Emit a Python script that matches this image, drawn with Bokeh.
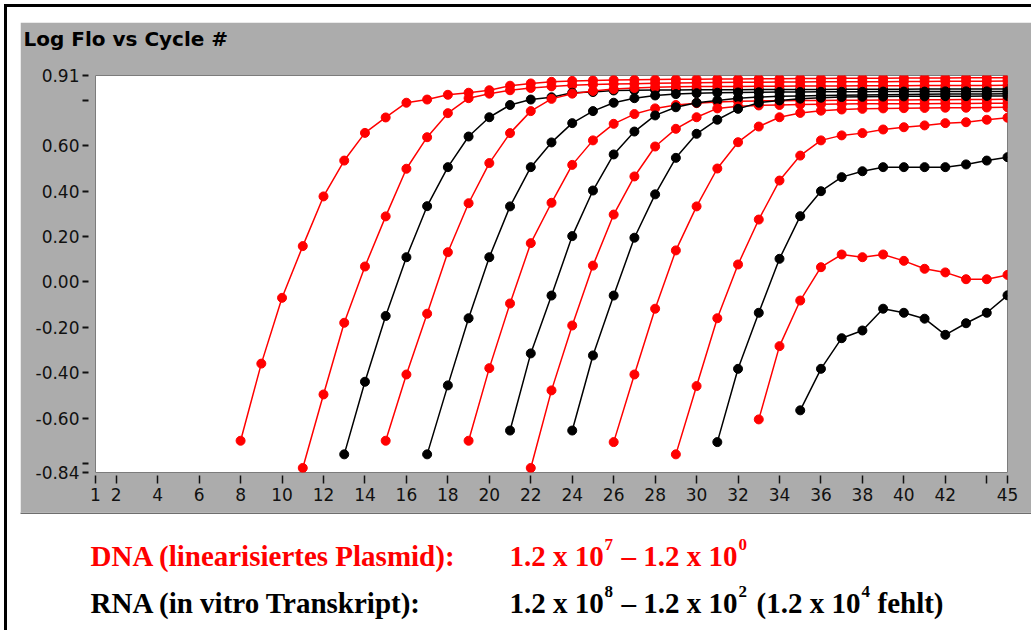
from bokeh.plotting import figure
from bokeh.models import Range1d, FixedTicker, Label
from bokeh.layouts import column
from bokeh.embed import file_html
from bokeh.resources import INLINE

# ---------------- data ----------------
# DNA (linearised plasmid) dilution series, red; first cycle + values up to cycle 45
dna_1e7_start = 8
dna_1e7 = [-0.70, -0.36, -0.07, 0.158, 0.377, 0.535, 0.657, 0.725, 0.79, 0.804, 0.825, 0.834,
           0.845, 0.865, 0.875, 0.882, 0.886, 0.888, 0.89, 0.891, 0.892, 0.893, 0.894, 0.895,
           0.895, 0.896, 0.896, 0.897, 0.897, 0.898, 0.898, 0.898, 0.899, 0.899, 0.899, 0.90,
           0.90, 0.90]
dna_1e6_start = 11
dna_1e6 = [-0.82, -0.496, -0.18, 0.068, 0.289, 0.499, 0.638, 0.744, 0.81, 0.83, 0.845, 0.855,
           0.862, 0.867, 0.87, 0.872, 0.874, 0.876, 0.877, 0.878, 0.879, 0.88, 0.88, 0.881,
           0.881, 0.882, 0.882, 0.883, 0.883, 0.884, 0.884, 0.885, 0.885, 0.885, 0.886]
dna_1e5_start = 15
dna_1e5 = [-0.70, -0.408, -0.14, 0.131, 0.347, 0.524, 0.656, 0.753, 0.807, 0.83, 0.842, 0.85,
           0.855, 0.858, 0.86, 0.861, 0.862, 0.862, 0.863, 0.863, 0.864, 0.864, 0.864, 0.865,
           0.865, 0.865, 0.866, 0.866, 0.866, 0.866, 0.867]
dna_1e4_start = 19
dna_1e4 = [-0.70, -0.38, -0.095, 0.171, 0.349, 0.516, 0.624, 0.697, 0.74, 0.765, 0.78, 0.788,
           0.793, 0.796, 0.798, 0.799, 0.80, 0.80, 0.801, 0.801, 0.802, 0.802, 0.803, 0.803,
           0.804, 0.804, 0.805]
dna_1e3_start = 22
dna_1e3 = [-0.82, -0.478, -0.192, 0.072, 0.297, 0.465, 0.597, 0.675, 0.726, 0.765, 0.774,
           0.778, 0.78, 0.782, 0.783, 0.784, 0.785, 0.785, 0.786, 0.786, 0.787, 0.787, 0.788,
           0.788]
dna_1e2_start = 26
dna_1e2 = [-0.706, -0.408, -0.118, 0.139, 0.333, 0.50, 0.616, 0.685, 0.726, 0.745, 0.755,
           0.76, 0.763, 0.765, 0.766, 0.767, 0.768, 0.768, 0.769, 0.77]
dna_1e1_start = 29
dna_1e1 = [-0.76, -0.459, -0.16, 0.077, 0.275, 0.447, 0.557, 0.624, 0.646, 0.656, 0.672,
           0.682, 0.69, 0.70, 0.704, 0.715, 0.724]
dna_1e0_start = 33
dna_1e0 = [-0.606, -0.283, -0.082, 0.065, 0.121, 0.109, 0.121, 0.093, 0.058, 0.042, 0.012,
           0.012, 0.031]

# RNA (in vitro transcript) dilution series, black
rna_1e8_start = 13
rna_1e8 = [-0.76, -0.44, -0.15, 0.109, 0.334, 0.506, 0.641, 0.726, 0.78, 0.804, 0.814, 0.834,
           0.837, 0.844, 0.845, 0.846, 0.846, 0.847, 0.847, 0.847, 0.848, 0.848, 0.848, 0.848,
           0.849, 0.849, 0.849, 0.849, 0.85, 0.85, 0.85, 0.85, 0.85]
rna_1e7_start = 17
rna_1e7 = [-0.76, -0.456, -0.16, 0.109, 0.333, 0.506, 0.615, 0.70, 0.753, 0.79, 0.81, 0.822,
           0.828, 0.832, 0.834, 0.835, 0.836, 0.837, 0.837, 0.838, 0.838, 0.838, 0.839, 0.839,
           0.839, 0.84, 0.84, 0.84, 0.84]
rna_1e6_start = 21
rna_1e6 = [-0.655, -0.315, -0.06, 0.202, 0.403, 0.562, 0.663, 0.734, 0.77, 0.79, 0.80, 0.81,
           0.815, 0.818, 0.82, 0.822, 0.823, 0.824, 0.825, 0.826, 0.827, 0.828, 0.828, 0.829,
           0.83]
rna_1e5_start = 24
rna_1e5 = [-0.655, -0.324, -0.06, 0.195, 0.386, 0.547, 0.653, 0.715, 0.763, 0.79, 0.80,
           0.808, 0.812, 0.815, 0.816, 0.817, 0.818, 0.818, 0.819, 0.819, 0.82, 0.82]
rna_1e3_start = 31
rna_1e3 = [-0.706, -0.383, -0.136, 0.102, 0.29, 0.40, 0.462, 0.488, 0.506, 0.506, 0.506,
           0.506, 0.518, 0.535, 0.55]
rna_1e2_start = 35
rna_1e2 = [-0.566, -0.383, -0.248, -0.214, -0.118, -0.136, -0.162, -0.233, -0.182, -0.136,
           -0.059]

x_ticks = [1, 2, 4, 6, 8, 10, 12, 14, 16, 18, 20, 22, 24, 26, 28, 30, 32, 34, 36, 38, 40, 42, 44, 45]
x_tick_labels = ["1", "2", "4", "6", "8", "10", "12", "14", "16", "18", "20", "22", "24", "26",
                 "28", "30", "32", "34", "36", "38", "40", "42", "", "45"]
y_ticks = [-0.84, -0.8, -0.6, -0.4, -0.2, 0.0, 0.2, 0.4, 0.6, 0.8, 0.91]
y_tick_labels = ["-0.84", "", "-0.60", "-0.40", "-0.20", "0.00", "0.20", "0.40", "0.60", "", "0.91"]

title_text = "Log Flo vs Cycle #"
dna_label = "DNA (linearisiertes Plasmid):"
rna_label = "RNA (in vitro Transkript):"
dna_range_parts = ["1.2 x 10", "7", "\u2013 1.2 x 10", "0"]
rna_range_parts = ["1.2 x 10", "8", "\u2013 1.2 x 10", "2", "(1.2 x 10", "4", "fehlt)"]

RED = "#ff0000"
BLACK = "#000000"
PANEL = "#acacac"

# ---------------- chart ----------------
p = figure(width=1011, height=490, x_range=Range1d(1, 45), y_range=Range1d(-0.84, 0.91),
           output_backend="svg", toolbar_location=None,
           min_border_left=75, min_border_right=24, min_border_top=53, min_border_bottom=40,
           border_fill_color=PANEL, background_fill_color="white",
           outline_line_color="#7c7c7c", outline_line_width=1,
           margin=(15, 0, 0, 13))
p.grid.visible = False

# title: second (blank) line lifts the first line to the top of the grey band
p.title.text = title_text + "\n "
p.title.align = "left"
p.title.offset = -72
p.title.standoff = 2
p.title.vertical_align = "bottom"
p.title.text_font = "DejaVu Sans"
p.title.text_font_size = "20px"
p.title.text_font_style = "bold"
p.title.text_color = "#000000"

xa = p.xaxis[0]
xa.ticker = FixedTicker(ticks=x_ticks, minor_ticks=[])
xa.major_label_overrides = {t: l for t, l in zip(x_ticks, x_tick_labels)}
xa.axis_line_color = None
xa.major_tick_in = -3
xa.major_tick_out = 11
xa.major_tick_line_width = 1.5
xa.major_tick_line_color = "#111111"
xa.minor_tick_line_color = None
xa.major_label_standoff = 4
xa.major_label_text_font = "DejaVu Sans"
xa.major_label_text_font_size = "17px"
xa.major_label_text_color = "#111111"

ya = p.yaxis[0]
ya.ticker = FixedTicker(ticks=y_ticks, minor_ticks=[])
ya.major_label_overrides = {t: l for t, l in zip(y_ticks, y_tick_labels)}
ya.axis_line_color = None
ya.major_tick_in = -7
ya.major_tick_out = 13
ya.major_tick_line_width = 2
ya.major_tick_line_color = "#111111"
ya.minor_tick_line_color = None
ya.major_label_standoff = 3
ya.major_label_text_font = "DejaVu Sans"
ya.major_label_text_font_size = "17px"
ya.major_label_text_color = "#111111"

series = [
    (dna_1e7_start, dna_1e7, RED), (dna_1e6_start, dna_1e6, RED),
    (rna_1e8_start, rna_1e8, BLACK), (dna_1e5_start, dna_1e5, RED),
    (rna_1e7_start, rna_1e7, BLACK), (dna_1e4_start, dna_1e4, RED),
    (rna_1e6_start, rna_1e6, BLACK), (dna_1e3_start, dna_1e3, RED),
    (rna_1e5_start, rna_1e5, BLACK), (dna_1e2_start, dna_1e2, RED),
    (dna_1e1_start, dna_1e1, RED), (rna_1e3_start, rna_1e3, BLACK),
    (dna_1e0_start, dna_1e0, RED), (rna_1e2_start, rna_1e2, BLACK),
]
for start, vals, col in series:
    xs = list(range(start, start + len(vals)))
    p.line(xs, vals, line_color=col, line_width=1.5)
    p.scatter(xs, vals, size=9, fill_color=col, line_color=col, marker="circle")

# ---------------- caption (page pixel coordinates) ----------------
t = figure(width=1024, height=118, x_range=Range1d(7, 1031), y_range=Range1d(630, 512),
           output_backend="svg", toolbar_location=None, min_border=0,
           min_border_left=0, min_border_right=0, min_border_top=0, min_border_bottom=0,
           x_axis_location=None, y_axis_location=None,
           outline_line_color=None, background_fill_color="white", border_fill_color="white")
t.grid.visible = False
# darker lower edge of the grey chart panel (decoration, spans the panel width)
t.segment(x0=[20], y0=[512.5], x1=[1031], y1=[512.5], line_color="#6e6e6e", line_width=2)

row1, row2 = 555, 602
sup = 11
big, small = "29px", "17px"

def put(x, y, text, color, size):
    t.add_layout(Label(x=x, y=y, text=text, text_font="Liberation Serif", text_font_style="bold",
                       text_font_size=size, text_color=color, text_baseline="alphabetic",
                       text_align="left"))

put(90, row1, dna_label, RED, big)
put(509, row1, dna_range_parts[0], RED, big)
put(604, row1 - sup, dna_range_parts[1], RED, small)
put(621, row1, dna_range_parts[2], RED, big)
put(738, row1 - sup, dna_range_parts[3], RED, small)

put(90, row2, rna_label, BLACK, big)
put(509, row2, rna_range_parts[0], BLACK, big)
put(604, row2 - sup, rna_range_parts[1], BLACK, small)
put(621, row2, rna_range_parts[2], BLACK, big)
put(738, row2 - sup, rna_range_parts[3], BLACK, small)
put(756, row2, rna_range_parts[4], BLACK, big)
put(861, row2 - sup, rna_range_parts[5], BLACK, small)
put(877, row2, rna_range_parts[6], BLACK, big)

layout = column(p, column(t), margin=(4, 0, 0, 4),
                styles={"border-left": "3px solid black", "border-top": "3px solid black"})

open("out.html", "w").write(file_html(layout, INLINE))
